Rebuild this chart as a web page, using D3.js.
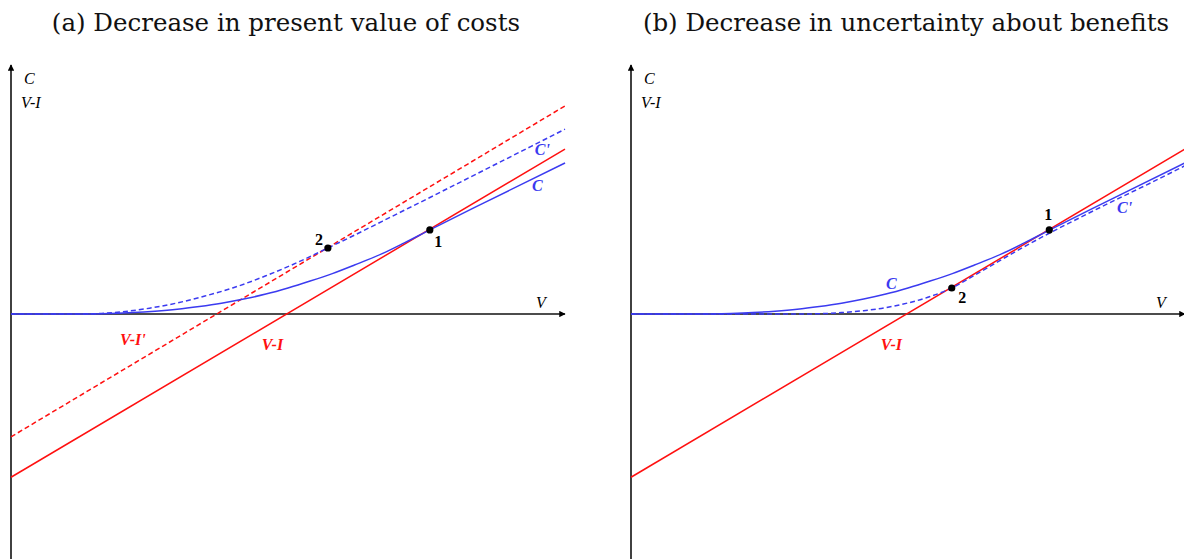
<!DOCTYPE html>
<html lang="en">

<head>
	<meta charset="UTF-8" />
	<title>Option value curves</title>
	<script src="https://cdn.jsdelivr.net/npm/d3@7"></script>
	<style>
		body { margin: 0; background: #fff; }
		text { font-family: "Liberation Serif", "DejaVu Serif", serif; }
	</style>
</head>

<body>
	<svg id="vis" width="1184" height="559"></svg>
	<script>
		// Titres des deux panneaux
		const titles = ["(a) Decrease in present value of costs", "(b) Decrease in uncertainty about benefits"];

		// Courbe C (identique dans les deux panneaux), valeurs [V, C]
		const curveC = [[0, 0], [12, 0], [18, 0.1], [22, 0.25], [26, 0.5], [30, 0.85], [34, 1.35],
			[38, 1.95], [42, 2.7], [46, 3.6], [50, 4.7], [54, 5.95], [58, 7.3], [62, 8.85],
			[67, 10.9], [71, 12.85], [75.6, 15.2], [85, 19.9], [100, 27.3]];

		// Courbe C' panneau (a)
		const curveCpA = [[0, 0], [10, 0], [15, 0.05], [20, 0.4], [25, 1.05], [30, 2.0], [35, 3.25],
			[40, 4.7], [46, 6.9], [52, 9.45], [57.2, 11.93], [62, 14.25], [67, 16.75], [75, 20.75],
			[85, 25.8], [100, 33.4]];

		// Courbe C' panneau (b)
		const curveCpB = [[0, 0], [30, 0], [34, 0.05], [38, 0.25], [42, 0.6], [46, 1.15], [50, 2.0],
			[54, 3.15], [57.9, 4.7], [62, 7.0], [67, 9.9], [71.5, 12.45], [75.5, 14.6], [80, 16.9],
			[86, 19.9], [93, 23.3], [100, 26.8]];

		// Droites V-I et V-I'
		const lineVI = [[0, -29.5], [100, 29.8]];
		const lineVIp = [[0, -22.2], [100, 37.6]];

		// Points de tangence
		const pointsA = [{ name: "1", v: 75.6, c: 15.2 }, { name: "2", v: 57.2, c: 11.93 }];
		const pointsB = [{ name: "1", v: 75.5, c: 15.2 }, { name: "2", v: 57.9, c: 4.7 }];

		const red = "#ff1010";
		const blue = "#3b3bf0";

		let svg = d3.select("#vis");

		let defs = svg.append("defs");
		defs.append("marker")
			.attr("id", "arrow")
			.attr("viewBox", "0 0 10 10")
			.attr("refX", 9).attr("refY", 5)
			.attr("markerWidth", 4).attr("markerHeight", 4)
			.attr("orient", "auto")
			.append("path")
			.attr("d", "M0,0 L10,5 L0,10 z")
			.attr("fill", "#000");

		function drawPanel(x0, title, cp, points, withShift) {
			let scaleX = d3.scaleLinear().domain([0, 100]).range([x0, x0 + 554]);
			let scaleY = d3.scaleLinear().domain([-45, 45]).range([563, 65]);

			let g = svg.append("g");

			// Titre
			g.append("text")
				.attr("x", x0 + 275).attr("y", 31)
				.attr("text-anchor", "middle")
				.style("font-family", "'DejaVu Serif', serif")
				.style("font-size", "24.5px")
				.attr("fill", "#111")
				.text(title);

			// Axes
			g.append("line")
				.attr("x1", scaleX(0)).attr("y1", 560)
				.attr("x2", scaleX(0)).attr("y2", scaleY(45))
				.attr("stroke", "#111").attr("stroke-width", 1.6)
				.attr("marker-end", "url(#arrow)");
			g.append("line")
				.attr("x1", scaleX(0)).attr("y1", scaleY(0))
				.attr("x2", scaleX(100)).attr("y2", scaleY(0))
				.attr("stroke", "#111").attr("stroke-width", 1.6)
				.attr("marker-end", "url(#arrow)");

			let line = d3.line()
				.x(d => scaleX(d[0]))
				.y(d => scaleY(d[1]));
			let smooth = d3.line()
				.x(d => scaleX(d[0]))
				.y(d => scaleY(d[1]))
				.curve(d3.curveMonotoneX);

			// Droite V-I
			g.append("path").attr("d", line(lineVI))
				.attr("fill", "none").attr("stroke", red).attr("stroke-width", 1.5);
			if (withShift) {
				g.append("path").attr("d", line(lineVIp))
					.attr("fill", "none").attr("stroke", red).attr("stroke-width", 1.5)
					.attr("stroke-dasharray", "5,3");
			}

			// Courbes C et C'
			g.append("path").attr("d", smooth(curveC))
				.attr("fill", "none").attr("stroke", blue).attr("stroke-width", 1.5);
			g.append("path").attr("d", smooth(cp))
				.attr("fill", "none").attr("stroke", blue).attr("stroke-width", 1.5)
				.attr("stroke-dasharray", "5,3");

			// Points
			for (let i = 0; i < points.length; i++) {
				g.append("circle")
					.attr("cx", scaleX(points[i].v)).attr("cy", scaleY(points[i].c))
					.attr("r", 3.6).attr("fill", "#000");
			}

			// Libellés des axes
			g.append("text").attr("x", x0 + 13).attr("y", 84)
				.attr("font-size", 16).attr("font-style", "italic").text("C");
			g.append("text").attr("x", x0 + 10).attr("y", 108)
				.attr("font-size", 16).attr("font-style", "italic").text("V-I");
			g.append("text").attr("x", x0 + 530).attr("y", scaleY(0) - 6)
				.attr("text-anchor", "middle")
				.attr("font-size", 16).attr("font-style", "italic").text("V");

			return { g: g, x: scaleX, y: scaleY };
		}

		function label(p, v, c, txt, color) {
			let t = p.g.append("text")
				.attr("x", p.x(v)).attr("y", p.y(c))
				.attr("text-anchor", "middle")
				.attr("font-size", 16)
				.attr("font-weight", "bold")
				.attr("fill", color)
				.text(txt);
			if (color != "#000") {
				t.attr("font-style", "italic");
			}
		}

		// Panneau (a)
		let pa = drawPanel(11, titles[0], curveCpA, pointsA, true);
		label(pa, 95.9, 28.8, "C'", blue);
		label(pa, 95, 22.3, "C", blue);
		label(pa, 22, -5.6, "V-I'", red);
		label(pa, 47.2, -6.5, "V-I", red);
		label(pa, 55.6, 12.5, "2", "#000");
		label(pa, 77.1, 12.1, "1", "#000");

		// Panneau (b)
		let pb = drawPanel(631, titles[1], curveCpB, pointsB, false);
		label(pb, 89.1, 18.25, "C'", blue);
		label(pb, 47, 4.6, "C", blue);
		label(pb, 47, -6.5, "V-I", red);
		label(pb, 75.3, 17.0, "1", "#000");
		label(pb, 59.8, 2.0, "2", "#000");
	</script>
</body>

</html>
